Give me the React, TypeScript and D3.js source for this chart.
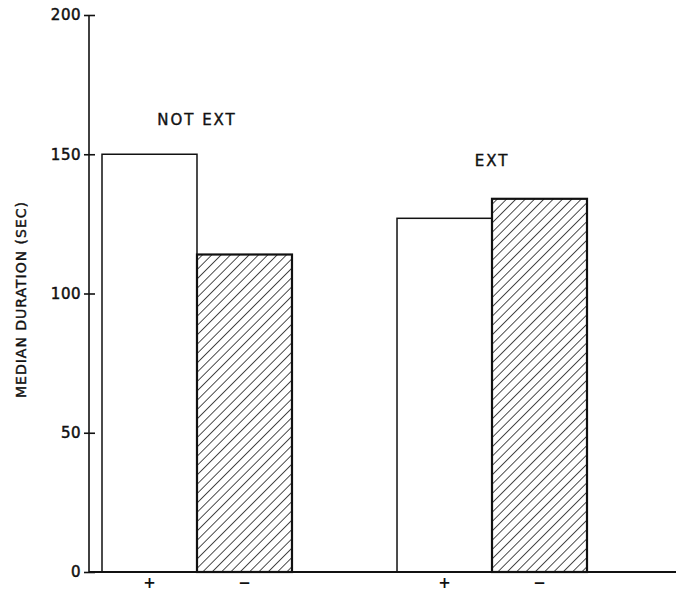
import * as d3 from "d3";
import { useEffect, useRef } from "react";

const groups = ["NOT EXT", "EXT"];
const signs = ["+", "\u2212"];
const notExtValues = [150, 114];
const extValues = [127, 134];
const yTicks = [0, 50, 100, 150, 200];

const valuesByGroup: Record<string, number[]> = {
  "NOT EXT": notExtValues,
  EXT: extValues,
};

const font = "'DejaVu Sans', sans-serif";
const ink = "#111";

export default function App() {
  const axisLeftRef = useRef<SVGGElement>(null);

  const width = 676;
  const height = 594;
  const axisX = 89;

  const scaleY = d3.scaleLinear().domain([0, 200]).range([572, 15]);
  const scaleGroup = d3
    .scaleBand()
    .domain(groups)
    .range([102, 587])
    .paddingInner(0.356)
    .paddingOuter(0);
  const scaleSign = d3
    .scaleBand()
    .domain(signs)
    .range([0, scaleGroup.bandwidth()])
    .padding(0);

  useEffect(() => {
    if (axisLeftRef.current) {
      const g = d3.select(axisLeftRef.current);
      g.call(
        d3
          .axisLeft(scaleY)
          .tickValues(yTicks)
          .tickSize(5)
          .tickPadding(3)
          .tickFormat(d3.format("d"))
      );
      g.select(".domain").remove();
      g.selectAll(".tick line")
        .attr("x1", -5)
        .attr("x2", 6)
        .attr("stroke", ink)
        .attr("stroke-width", 1.6);
      g.selectAll(".tick text")
        .attr("font-family", font)
        .attr("font-size", 15)
        .attr("letter-spacing", 0.5)
        .attr("fill", ink)
        .attr("stroke", ink)
        .attr("stroke-width", 0.5);
    }
  }, [scaleY]);

  return (
    <div style={{ position: "absolute", left: 0, top: 0 }}>
      <svg width={width} height={height} style={{ display: "block", background: "#fff" }}>
        <defs>
          <pattern
            id="hatch"
            patternUnits="userSpaceOnUse"
            width={6.6}
            height={6.6}
            patternTransform="rotate(45)"
          >
            <line x1={0} y1={0} x2={0} y2={6.6} stroke={ink} strokeWidth={1.5} />
          </pattern>
        </defs>

        {groups.map((group) => (
          <g key={group} transform={`translate(${scaleGroup(group)},0)`}>
            {signs.map((sign, i) => {
              const v = valuesByGroup[group][i];
              const y1 = scaleY(v);
              const y0 = scaleY(0);
              return (
                <rect
                  key={sign}
                  x={scaleSign(sign)}
                  y={y1}
                  width={scaleSign.bandwidth()}
                  height={y0 - y1}
                  fill={i === 0 ? "#fff" : "url(#hatch)"}
                  stroke={ink}
                  strokeWidth={i === 0 ? 1.5 : 2.2}
                />
              );
            })}
            <text
              x={scaleGroup.bandwidth() / 2}
              y={group === "EXT" ? 166 : 125}
              textAnchor="middle"
              fontFamily={font}
              fontSize={15}
              letterSpacing={2}
              fill={ink}
              stroke={ink}
              strokeWidth={0.4}
            >
              {group}
            </text>
            {signs.map((sign) => (
              <text
                key={sign}
                x={(scaleSign(sign) ?? 0) + scaleSign.bandwidth() / 2}
                y={588}
                textAnchor="middle"
                fontFamily={font}
                fontSize={15}
                fontWeight="bold"
                fill={ink}
              >
                {sign}
              </text>
            ))}
          </g>
        ))}

        <line x1={axisX} x2={axisX} y1={scaleY(200)} y2={scaleY(0)} stroke={ink} strokeWidth={1.6} />
        <line x1={axisX} x2={676} y1={scaleY(0)} y2={scaleY(0)} stroke={ink} strokeWidth={1.8} />
        <g ref={axisLeftRef} transform={`translate(${axisX},0)`} />

        <text
          transform={`translate(26, ${scaleY(100) + 6}) rotate(-90)`}
          textAnchor="middle"
          fontFamily={font}
          fontSize={14}
          letterSpacing={1}
          fill={ink}
          stroke={ink}
          strokeWidth={0.4}
        >
          MEDIAN DURATION (SEC)
        </text>
      </svg>
    </div>
  );
}
